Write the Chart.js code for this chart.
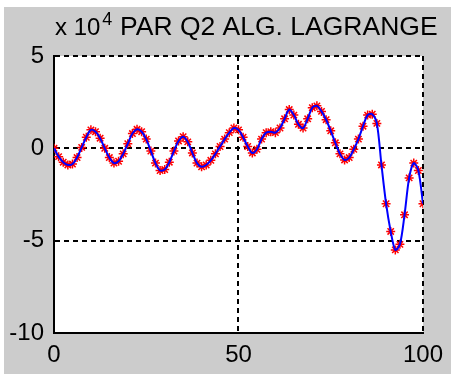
<!DOCTYPE html>
<html>
<head>
<meta charset="utf-8">
<script src="https://cdn.jsdelivr.net/npm/chart.js@4/dist/chart.umd.min.js"></script>
<style>
  html, body { margin: 0; padding: 0; background: #ffffff; }
  #wrap { position: absolute; left: 4px; top: 7px; width: 447px; height: 367px; }
  canvas { display: block; }
</style>
</head>
<body>
<div id="wrap"><canvas id="c" width="447" height="367"></canvas></div>
<script>
// ---- data (y in units of 10^4) ----
const xValues = [
  0, 1.25, 2.5, 3.75, 5, 6.25, 7.5, 8.75, 10, 11.25,
  12.5, 13.75, 15, 16.25, 17.5, 18.75, 20, 21.25, 22.5, 23.75,
  25, 26.25, 27.5, 28.75, 30, 31.25, 32.5, 33.75, 35, 36.25,
  37.5, 38.75, 40, 41.25, 42.5, 43.75, 45, 46.25, 47.5, 48.75,
  50, 51.25, 52.5, 53.75, 55, 56.25, 57.5, 58.75, 60, 61.25,
  62.5, 63.75, 65, 66.25, 67.5, 68.75, 70, 71.25, 72.5, 73.75,
  75, 76.25, 77.5, 78.75, 80, 81.25, 82.5, 83.75, 85, 86.25,
  87.5, 88.75, 90, 91.25, 92.5, 93.75, 95, 96.25, 97.5, 98.75,
  100
];
const yValues = [
  0.0, -0.45, -0.75, -0.9, -0.85, -0.5, 0.05, 0.6, 1.0, 0.9,
  0.55, 0.0, -0.5, -0.8, -0.7, -0.3, 0.25, 0.8, 1.03, 0.9,
  0.5, -0.15, -0.8, -1.2, -1.15, -0.75, -0.15, 0.4, 0.63, 0.35,
  -0.25, -0.8, -1.0, -0.9, -0.65, -0.3, 0.1, 0.5, 0.85, 1.1,
  1.0, 0.6, 0.1, -0.25, -0.05, 0.5, 0.85, 0.9, 0.85, 1.1,
  1.6, 2.1, 1.8, 1.3, 1.1, 1.6, 2.2, 2.3, 2.0, 1.55,
  0.95, 0.3, -0.3, -0.63, -0.5, -0.05, 0.5, 1.2, 1.8, 1.85,
  1.35, -0.9, -3.0, -4.5, -5.5, -5.2, -3.6, -1.6, -0.8, -1.2,
  -3.0
];
const xTicks = [0, 50, 100];
const yTicks = [-10, -5, 0, 5];
const titleText = 'PAR Q2 ALG. LAGRANGE';
const exponentBase = 'x 10';
const exponentPower = '4';

const points = xValues.map((x, i) => ({ x: x, y: yValues[i] }));
const FONT = '"Liberation Sans", Arial, sans-serif';

const bgPlugin = {
  id: 'matlabBg',
  beforeDraw(chart) {
    const { ctx, chartArea: a } = chart;
    ctx.save();
    ctx.fillStyle = '#cccccc';
    ctx.fillRect(0, 0, chart.width, chart.height);
    ctx.fillStyle = '#ffffff';
    ctx.fillRect(a.left, a.top, a.right - a.left, a.bottom - a.top);
    ctx.restore();
  },
  afterDraw(chart) {
    const { ctx, chartArea: a } = chart;
    ctx.save();
    ctx.fillStyle = '#000000';
    ctx.textBaseline = 'alphabetic';
    ctx.textAlign = 'left';
    ctx.font = '24px ' + FONT;
    const bx = a.left + 1, by = a.top - 21;
    ctx.fillText(exponentBase, bx, by);
    const w = ctx.measureText(exponentBase).width;
    ctx.font = '18px ' + FONT;
    ctx.fillText(exponentPower, bx + w + 2, by - 10);
    ctx.font = '26.5px ' + FONT;
    ctx.fillText(titleText, 116, by);
    ctx.restore();
  }
};

new Chart(document.getElementById('c'), {
  type: 'line',
  data: {
    datasets: [
      {
        data: points,
        borderColor: '#0000ff',
        borderWidth: 2,
        pointRadius: 0,
        tension: 0.3,
        fill: false,
        order: 0
      },
      {
        data: points,
        showLine: false,
        pointStyle: 'star',
        pointRadius: 4.5,
        pointBorderColor: '#ff0000',
        pointBackgroundColor: '#ff0000',
        pointBorderWidth: 1.5,
        order: 1
      }
    ]
  },
  options: {
    responsive: false,
    animation: false,
    events: [],
    layout: { padding: { top: 49, right: 23, left: 0, bottom: 0 } },
    plugins: { legend: { display: false }, tooltip: { enabled: false }, title: { display: false } },
    scales: {
      x: {
        type: 'linear',
        min: 0, max: 100,
        afterBuildTicks(scale) { scale.ticks = xTicks.map(v => ({ value: v })); },
        afterFit(scale) { scale.height = 41; },
        ticks: {
          color: '#000000',
          font: { family: FONT, size: 24 },
          padding: 8,
          maxRotation: 0,
          autoSkip: false
        },
        grid: { color: '#000000', lineWidth: 2, drawTicks: false },
        border: { display: true, color: '#000000', width: 2, dash: [5, 4] }
      },
      y: {
        type: 'linear',
        min: -10, max: 5,
        afterBuildTicks(scale) { scale.ticks = yTicks.map(v => ({ value: v })); },
        afterFit(scale) { scale.width = 50; },
        ticks: {
          color: '#000000',
          font: { family: FONT, size: 24 },
          padding: 10,
          autoSkip: false
        },
        grid: { color: '#000000', lineWidth: 2, drawTicks: false },
        border: { display: true, color: '#000000', width: 2, dash: [5, 4] }
      }
    }
  },
  plugins: [bgPlugin]
});
</script>
</body>
</html>
